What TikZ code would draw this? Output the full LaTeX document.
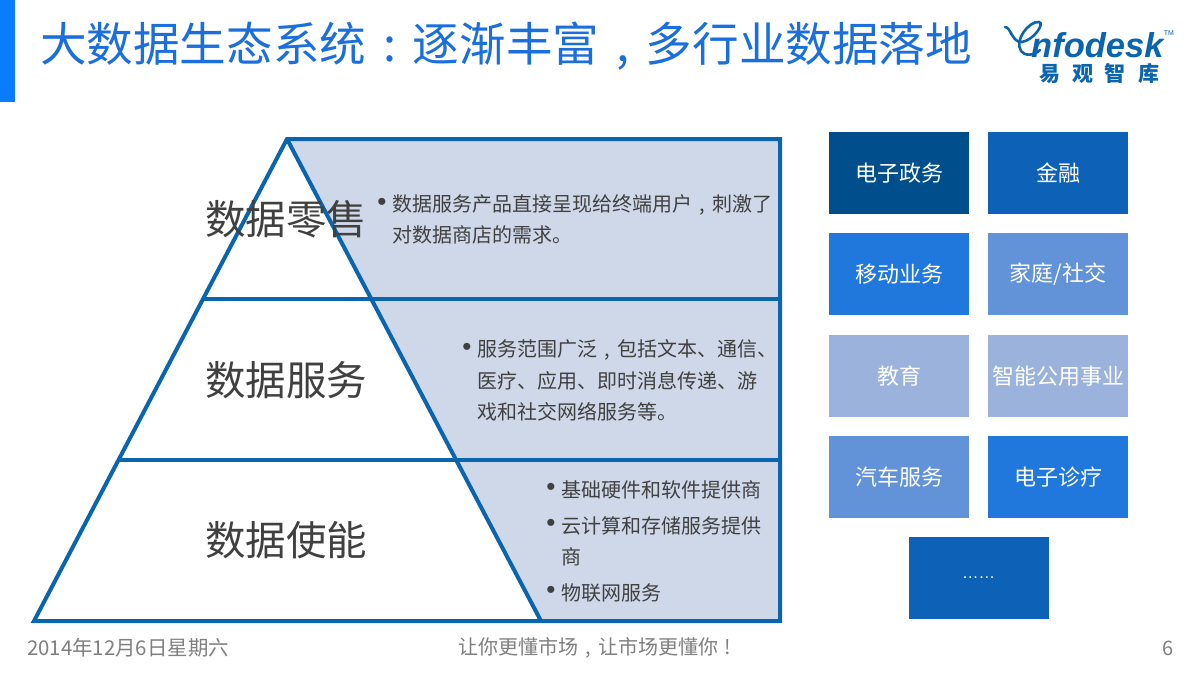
\documentclass[tikz,border=0pt]{standalone}
\usepackage{fontspec}
\setmainfont{Noto Sans CJK SC}
\newfontfamily\logofont{Liberation Sans}
\usepackage{xcolor}
\definecolor{barblue}{HTML}{0A7CFF}
\definecolor{titleblue}{HTML}{1A6FDC}
\definecolor{lineblue}{HTML}{0B64AE}
\definecolor{paleblue}{HTML}{CED8E9}
\definecolor{darkgray}{HTML}{404040}
\definecolor{footgray}{HTML}{7F7F7F}
\definecolor{boxa}{HTML}{004F8C}
\definecolor{boxb}{HTML}{0D62B8}
\definecolor{boxc}{HTML}{2178DC}
\definecolor{boxd}{HTML}{6293D9}
\definecolor{boxe}{HTML}{9AB2DC}
\newcommand{\cnpunct}[1]{\makebox[1em][c]{#1}}
\tikzset{
    tile/.style = {minimum width = 140pt, minimum height = 82pt, inner sep = 0pt, text = white, font = \fontsize{22}{22}\selectfont},
    levellabel/.style = {inner sep = 0pt, text = darkgray, font = \fontsize{40.5}{40.5}\selectfont},
    bodyline/.style = {anchor = west, inner sep = 0pt, text = darkgray, font = \fontsize{20}{20}\selectfont},
    bulletmark/.style = {inner sep = 0pt, text = darkgray, font = \logofont\fontsize{26}{26}\selectfont},
    footline/.style = {inner sep = 0pt, text = footgray, font = \fontsize{20}{20}\selectfont}
}

\begin{document}
\begin{tikzpicture}[x = 1pt, y = -1pt]
    \useasboundingbox (0,0) rectangle (1200,675);
    \fill[white] (0,0) rectangle (1200,675);

    % header
    \fill[barblue] (0,0) rectangle (15,102);
    \node[anchor = west, inner sep = 0pt, text = titleblue, font = \fontsize{46.6}{46.6}\selectfont] (title) at (40,46) {大数据生态系统\cnpunct{:}逐渐丰富\cnpunct{,}多行业数据落地};

    % logo
    \begin{scope}
        \draw[lineblue, line width = 2.6pt, line cap = round] (1005,27) .. controls (1011,27) and (1012,43) .. (1022,42) .. controls (1034,40) and (1045,23) .. (1039,22) .. controls (1029,21) and (1014,40) .. (1021,51) .. controls (1024,56) and (1034,56) .. (1040,50);
        \node[anchor = west, inner sep = 0pt, text = lineblue, font = \logofont\bfseries\itshape\fontsize{34.5}{34.5}\selectfont] (brand) at (1031,45) {nfodesk};
        \node[inner sep = 0pt, text = lineblue, font = \logofont\fontsize{7}{7}\selectfont] (trademark) at (1169,33) {TM};
        \node[inner sep = 0pt, text = lineblue, font = \bfseries\fontsize{21}{21}\selectfont] (brandcn) at (1099,74) {易\hspace{12pt}观\hspace{12pt}智\hspace{12pt}库};
    \end{scope}

    % pyramid
    \begin{scope}[lineblue, line width = 4pt]
        \fill[paleblue] (287,139) -- (780,139) -- (780,621) -- (541,621) -- cycle;
        \draw (287,139) -- (780,139) -- (780,621) -- (34,621) -- cycle;
        \draw (287,139) -- (541,621);
        \draw (203,299) -- (780,299);
        \draw (118,460) -- (780,460);
    \end{scope}

    \node[levellabel] (retail) at (286,219) {数据零售};
    \node[levellabel] (service) at (286,380) {数据服务};
    \node[levellabel] (enable) at (286,540) {数据使能};

    % texts
    \node[bulletmark] (bulleta) at (382,204) {•};
    \node[bodyline] (retaila) at (392,205) {数据服务产品直接呈现给终端用户\cnpunct{,}刺激了};
    \node[bodyline] (retailb) at (392,235) {对数据商店的需求。};

    \node[bulletmark] (bulletb) at (467,349) {•};
    \node[bodyline] (servicea) at (477,350) {服务范围广泛\cnpunct{,}包括文本、通信、};
    \node[bodyline] (serviceb) at (477,381) {医疗、应用、即时消息传递、游};
    \node[bodyline] (servicec) at (477,412) {戏和社交网络服务等。};

    \node[bulletmark] (bulletc) at (551,489) {•};
    \node[bodyline] (enablea) at (561,490) {基础硬件和软件提供商};
    \node[bulletmark] (bulletd) at (551,525) {•};
    \node[bodyline] (enableb) at (561,526) {云计算和存储服务提供};
    \node[bodyline] (enablec) at (561,557) {商};
    \node[bulletmark] (bullete) at (551,592) {•};
    \node[bodyline] (enabled) at (561,593) {物联网服务};

    % tiles
    \node[tile, fill = boxa] (egov) at (899,173) {电子政务};
    \node[tile, fill = boxb] (finance) at (1058,173) {金融};
    \node[tile, fill = boxc] (mobile) at (899,274) {移动业务};
    \node[tile, fill = boxd] (family) at (1058,274) {家庭/社交};
    \node[tile, fill = boxe] (education) at (899,376) {教育};
    \node[tile, fill = boxe] (utility) at (1058,376) {智能公用事业};
    \node[tile, fill = boxd] (auto) at (899,477) {汽车服务};
    \node[tile, fill = boxc] (health) at (1058,477) {电子诊疗};
    \node[tile, fill = boxb, font = \logofont\fontsize{16.5}{16.5}\selectfont] (more) at (978.5,577.5) {……};

    % footer
    \node[footline, anchor = west, font = \fontsize{20.4}{20.4}\selectfont] (date) at (27,648) {2014年12月6日星期六};
    \node[footline] (slogan) at (598,648) {让你更懂市场\cnpunct{,}让市场更懂你\cnpunct{!}};
    \node[footline] (page) at (1168,648) {6};
\end{tikzpicture}
\end{document}
